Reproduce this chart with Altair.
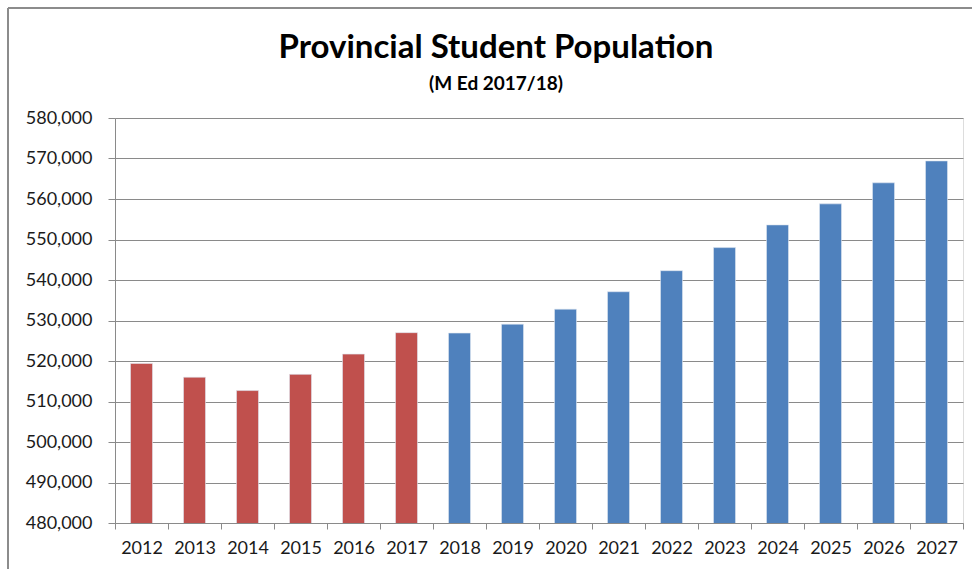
import altair as alt
import pandas as pd

years = ["2012", "2013", "2014", "2015", "2016", "2017", "2018", "2019",
         "2020", "2021", "2022", "2023", "2024", "2025", "2026", "2027"]
students = [519400, 516000, 512700, 516700, 521700, 527000, 526900, 529100,
            532800, 537100, 542300, 548000, 553600, 558800, 564000, 569400]
periods = ["Actual"] * 6 + ["Projected"] * 10

df = pd.DataFrame({"year": years, "students": students, "period": periods})

FONT = "Lato"
GRID = "#8a8a8a"

bars = alt.Chart(df).mark_bar(size=22, clip=True, stroke="#dfe6f0", strokeWidth=0.6).encode(
    x=alt.X("year:N", sort=years, title=None,
            scale=alt.Scale(paddingInner=0, paddingOuter=0),
            axis=alt.Axis(labelAngle=0, tickBand="extent", tickSize=6,
                          tickColor=GRID, domainColor=GRID, labelFontSize=18,
                          labelPadding=10, labelFont=FONT, labelColor="#1a1a1a",
                          grid=False)),
    y=alt.Y("students:Q", title=None,
            scale=alt.Scale(domain=[480000, 580000], nice=False, zero=False),
            axis=alt.Axis(values=list(range(480000, 580001, 10000)), format=",d",
                          tickSize=7, tickColor=GRID, domainColor=GRID,
                          gridColor=GRID, gridWidth=1.2, labelFontSize=18,
                          labelPadding=16, labelFont=FONT, labelColor="#1a1a1a")),
    color=alt.Color("period:N", legend=None,
                    scale=alt.Scale(domain=["Actual", "Projected"],
                                    range=["#C0504D", "#4F81BD"])),
)

frame_top = alt.Chart(df).mark_rule(color="#8c8c8c", strokeWidth=1.5).encode(
    x=alt.value(-107), x2=alt.value(870), y=alt.value(-110))
frame_left = alt.Chart(df).mark_rule(color="#8c8c8c", strokeWidth=1.5).encode(
    x=alt.value(-107), y=alt.value(-110), y2=alt.value(460))

chart = alt.layer(bars, frame_top, frame_left).properties(
    width=848, height=405,
    autosize=alt.AutoSizeParams(type="none"),
    padding={"left": 115, "top": 118, "right": 9, "bottom": 46},
    title=alt.TitleParams(
        text="Provincial Student Population",
        subtitle="(M Ed 2017/18)",
        anchor="middle", frame="group", dx=-43, offset=-87,
        font=FONT, fontSize=33, fontWeight="bold", color="#000000",
        subtitleFont=FONT, subtitleFontSize=19, subtitleFontWeight="bold",
        subtitleColor="#000000", subtitlePadding=10),
).configure_view(stroke=None).configure(background="white")

chart.save("out.html", embed_options={"renderer": "svg", "actions": False})
